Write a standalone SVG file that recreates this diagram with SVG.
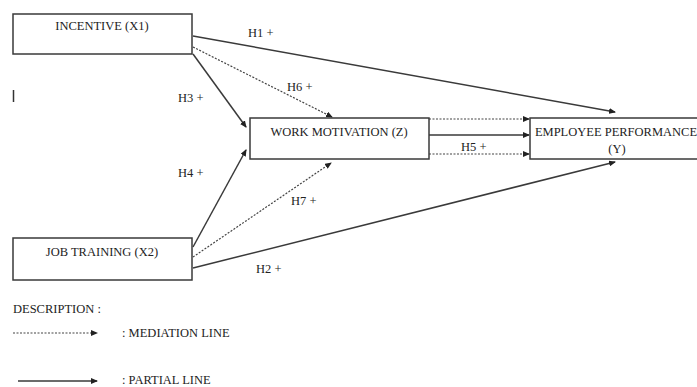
<svg xmlns="http://www.w3.org/2000/svg" width="697" height="387" viewBox="0 0 697 387">
<style>
text{font-family:"Liberation Serif","Times New Roman",serif;font-size:12.5px;fill:#222}
.box{fill:#fff;stroke:#3a3a3a;stroke-width:1.5}
.solid{stroke:#3a3a3a;stroke-width:1.5;fill:none;marker-end:url(#ah)}
.dot{stroke:#444;stroke-width:1.2;stroke-dasharray:2 1.5;fill:none;marker-end:url(#ah)}
.mid{text-anchor:middle}
</style>
<defs>
<marker id="ah" markerWidth="7" markerHeight="6" refX="6" refY="3" orient="auto" markerUnits="userSpaceOnUse">
<path d="M0,0 L7,3 L0,6 Z" fill="#222"/>
</marker>
</defs>
<rect width="697" height="387" fill="#fff"/>
<g id="connectors">
<line class="solid" x1="193" y1="36" x2="615" y2="112"/>
<line class="dot" x1="193" y1="47" x2="332" y2="117"/>
<line class="solid" x1="193" y1="54" x2="246" y2="127"/>
<line class="solid" x1="193" y1="247" x2="246" y2="150"/>
<line class="dot" x1="193" y1="257" x2="331" y2="163"/>
<line class="solid" x1="193" y1="268" x2="615" y2="162"/>
<line class="dot" x1="429" y1="119" x2="529" y2="119"/>
<line class="solid" x1="429" y1="135" x2="529" y2="135"/>
<line class="dot" x1="429" y1="154" x2="529" y2="154"/>
</g>
<g id="labels">
<text x="248" y="37">H1 +</text>
<text x="287" y="91">H6 +</text>
<text x="178" y="102">H3 +</text>
<text x="178" y="177">H4 +</text>
<text x="291" y="205">H7 +</text>
<text x="256" y="273">H2 +</text>
<text x="461" y="151">H5 +</text>
</g>
<g id="incentive">
<rect class="box" x="13" y="14" width="179" height="40"/>
<text class="mid" x="102" y="30">INCENTIVE (X1)</text>
</g>
<line x1="13.5" y1="90" x2="13.5" y2="102" stroke="#333" stroke-width="1.5"/>
<g id="work-motivation">
<rect class="box" x="250" y="118" width="179" height="41"/>
<text class="mid" x="339" y="136">WORK MOTIVATION (Z)</text>
</g>
<g id="employee-performance">
<rect class="box" x="530" y="118" width="180" height="41"/>
<text class="mid" x="616" y="136">EMPLOYEE PERFORMANCE</text>
<text class="mid" x="617" y="153">(Y)</text>
</g>
<g id="job-training">
<rect class="box" x="13" y="238" width="179" height="42"/>
<text class="mid" x="102" y="256">JOB TRAINING (X2)</text>
</g>
<g id="legend">
<text x="13" y="313">DESCRIPTION  :</text>
<line class="dot" x1="13" y1="333" x2="97" y2="333"/>
<text x="122" y="337">: MEDIATION LINE</text>
<line class="solid" x1="18" y1="381" x2="97" y2="381"/>
<text x="122" y="384">: PARTIAL LINE</text>
</g>
</svg>
